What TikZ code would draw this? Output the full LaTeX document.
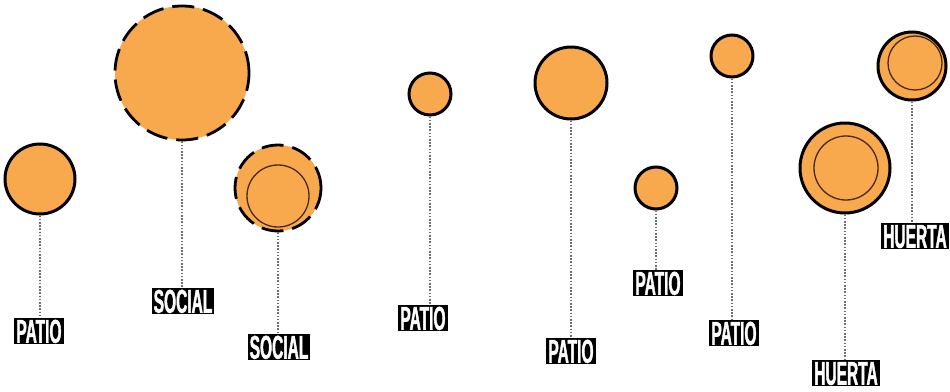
\documentclass[tikz,border=0pt]{standalone}
\usepackage{fontspec}
\newfontfamily\labfont[FakeStretch=0.47,FakeBold=1.2]{Liberation Sans}
\definecolor{fillor}{RGB}{248,169,78}
\definecolor{conngray}{RGB}{110,110,115}
\definecolor{innerc}{RGB}{70,40,20}
\tikzset{
  x=1pt, y=-1pt,
  bub/.style={circle, fill=fillor, draw=black, line width=3pt, inner sep=0pt, minimum size=#1},
  dbub/.style={bub=#1, dash pattern=on 22pt off 9pt, line width=2.8pt},
  inner/.style={circle, draw=innerc, line width=1.3pt, inner sep=0pt, minimum size=#1},
  lab/.style={fill=black, text=white, font=\labfont\bfseries\fontsize{33}{33}\selectfont,
    inner xsep=2pt, inner ysep=1.5pt, text height=23.5pt, text depth=0pt},
  conn/.style={draw=conngray, line width=2pt, dash pattern=on 1.6pt off 1.6pt}
}
\begin{document}
\begin{tikzpicture}
\useasboundingbox (0,0) rectangle (950,391);
% circles
\node[bub=70pt] (c1) at (40,179) {};
\node[dbub=134pt] (c2) at (182,73) {};
\node[dbub=86pt] (c3) at (278,188) {};
\node[inner=62pt] (i3) at (278,196) {};
\node[bub=42pt] (c4) at (430,94) {};
\node[bub=72pt] (c5) at (571,83) {};
\node[bub=42pt] (c6) at (656,188) {};
\node[bub=42pt] (c7) at (732,56) {};
\node[bub=90pt] (c8) at (845,168) {};
\node[inner=64pt] (i8) at (846,168) {};
\node[bub=68pt] (c9) at (912,66) {};
\node[inner=54pt] (i9) at (915,63) {};
% labels
\node[lab] (l1) at (39,331) {PATIO};
\node[lab] (l2) at (183,301) {SOCIAL};
\node[lab] (l3) at (279,347) {SOCIAL};
\node[lab] (l4) at (423,318) {PATIO};
\node[lab] (l5) at (571,351) {PATIO};
\node[lab] (l6) at (658,283) {PATIO};
\node[lab] (l7) at (734,333) {PATIO};
\node[lab] (l8) at (846,373) {HUERTA};
\node[lab] (l9) at (915,236) {HUERTA};
% connectors
\draw[conn] (c1.south) -- (c1.south |- l1.north);
\draw[conn] (c2.south) -- (c2.south |- l2.north);
\draw[conn] (c3.south) -- (c3.south |- l3.north);
\draw[conn] (c4.south) -- (c4.south |- l4.north);
\draw[conn] (c5.south) -- (c5.south |- l5.north);
\draw[conn] (c6.south) -- (c6.south |- l6.north);
\draw[conn] (c7.south) -- (c7.south |- l7.north);
\draw[conn] (c8.south) -- (c8.south |- l8.north);
\draw[conn] (c9.south) -- (c9.south |- l9.north);
\end{tikzpicture}
\end{document}
